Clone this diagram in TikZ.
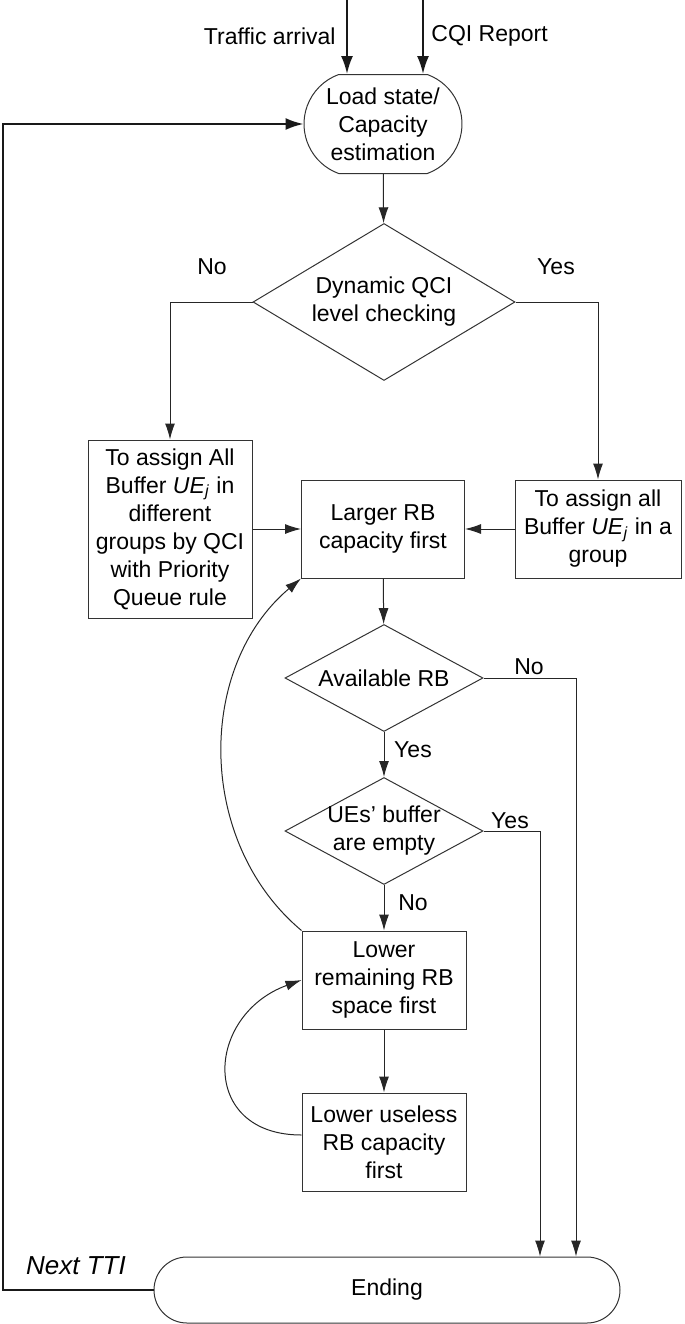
\documentclass[tikz,border=0pt]{standalone}
\usepackage{fontspec}
\setmainfont{Liberation Sans}
\usetikzlibrary{arrows.meta,shapes.geometric,shapes.misc,positioning}

\newcommand{\uej}{\textit{UE}\textsubscript{\textit{j}}}

\tikzset{
  base/.style={draw=black!80, line width=0.5pt, align=center,
    font=\fontsize{11.5}{14}\selectfont, inner sep=1pt},
  procbox/.style={base, rectangle, minimum width=82pt, minimum height=49pt},
  decision/.style={base, diamond, minimum width=99pt, minimum height=53.5pt, inner sep=0pt},
  terminal/.style={base, rounded rectangle},
  note/.style={font=\fontsize{11.5}{14}\selectfont, inner sep=0pt, align=center},
  flow/.style={draw=black!85, line width=0.5pt, -{Latex[length=8pt,width=5pt]}},
  heavy/.style={draw=black!90, line width=1pt, -{Latex[length=9pt,width=6pt]}}
}

\begin{document}
\begin{tikzpicture}[x=0.5pt, y=-0.5pt]
\useasboundingbox (0,0) rectangle (685,1324);

% nodes
\node (load) [terminal, rounded rectangle arc length=140, minimum width=81pt, minimum height=49.5pt]
  at (383,124) {Load state/\\Capacity\\estimation};
\node (qci) [decision, minimum width=131pt, minimum height=78.5pt,
  label={[note]center:{Dynamic QCI\\level checking}}] at (384,302) {};
\node (grpall) [procbox, minimum height=89pt] at (170,529)
  {To assign All\\Buffer \uej{} in\\different\\groups by QCI\\with Priority\\Queue rule};
\node (larger) [procbox, minimum width=81.5pt] at (383,529) {Larger RB\\capacity first};
\node (grpone) [procbox, minimum width=83pt] at (598,529) {To assign all\\Buffer \uej{} in a\\group};
\node (avail) [decision, label={[note]center:Available RB}] at (384,678) {};
\node (empty) [decision, label={[note]center:{UEs' buffer\\are empty}}] at (384,831) {};
\node (lowrem) [procbox] at (384,980) {Lower\\remaining RB\\space first};
\node (lowuse) [procbox] at (384,1142) {Lower useless\\RB capacity\\first};
\node (ending) [terminal, minimum width=235pt, minimum height=33pt] at (387,1290) {Ending};

% free ends
\coordinate (ta)   at (347,0);
\coordinate (cqi)  at (423,0);
\coordinate (back) at (3,0);
\coordinate (noend)  at (576,0);
\coordinate (yesend) at (540,0);

% inputs
\draw[heavy] (ta) -- (ta |- load.north);
\draw[heavy] (cqi) -- (cqi |- load.north);
\node (tal) [note, anchor=east] at (336,36) {Traffic arrival};
\node (cqil) [note, anchor=west] at (431,36) {CQI Report};

% main flow
\draw[flow] (load) -- (qci);
\draw[flow] (qci.west) -| (grpall.north);
\draw[flow] (qci.east) -| (grpone.north);
\draw[flow] (grpall) -- (larger);
\draw[flow] (grpone) -- (larger);
\draw[flow] (larger) -- (avail);
\draw[flow] (avail) -- (empty);
\draw[flow] (empty) -- (lowrem);
\draw[flow] (lowrem) -- (lowuse);
\draw[flow] (avail.east) -| (noend |- ending.north);
\draw[flow] (empty.east) -| (yesend |- ending.north);

% loops
\draw[flow] (lowrem.north west) to[bend left=50] (larger.south west);
\draw[flow] ([yshift=3.5pt]lowuse.west) to[out=180, in=200, looseness=1.7] (lowrem.west);
\draw[heavy] (ending.west) -- (ending.west -| back) -- (back |- load.west) -- (load.west);

% branch labels
\node (qcino)   [note] at (212,267) {No};
\node (qciyes)  [note] at (556,267) {Yes};
\node (availno) [note] at (529,667) {No};
\node (availyes)[note] at (413,750) {Yes};
\node (emptyyes)[note] at (510,821) {Yes};
\node (emptyno) [note] at (413,903) {No};
\node (next) [note, font=\fontsize{13}{15}\selectfont\itshape] at (76,1266) {Next TTI};

\end{tikzpicture}
\end{document}
